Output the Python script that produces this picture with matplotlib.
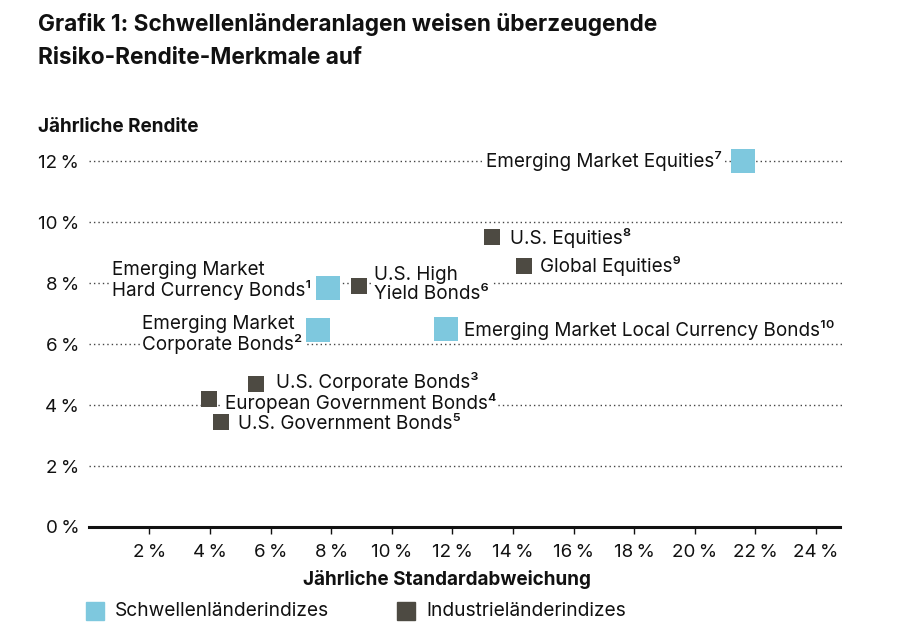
import matplotlib
matplotlib.use('Agg')
import matplotlib.pyplot as plt

plt.rcParams['font.family'] = ['Inter', 'DejaVu Sans']

# risk (x, % std dev) and return (y, %) per index
em_names = ['Emerging Market Equities⁷',
            'Emerging Market\nHard Currency Bonds¹',
            'Emerging Market\nCorporate Bonds²',
            'Emerging Market Local Currency Bonds¹⁰']
em_risk = [21.6, 7.9, 7.55, 11.8]
em_return = [12.0, 7.85, 6.45, 6.5]

dm_names = ['U.S. Equities⁸', 'Global Equities⁹', 'U.S. High\nYield Bonds⁶',
            'U.S. Corporate Bonds³', 'European Government Bonds⁴',
            'U.S. Government Bonds⁵']
dm_risk = [13.3, 14.35, 8.9, 5.5, 3.95, 4.35]
dm_return = [9.5, 8.55, 7.9, 4.7, 4.2, 3.45]

x_ticks = [2, 4, 6, 8, 10, 12, 14, 16, 18, 20, 22, 24]
y_ticks = [0, 2, 4, 6, 8, 10, 12]

em_color = '#7ec8de'
dm_color = '#4d4a42'

# label offsets in pixels from the marker, and alignment
em_offsets = [(-21, 0, 'right'), (-17, 7, 'right'), (-15, -4, 'right'), (18, -1, 'left')]
dm_offsets = [(18, -1, 'left'), (16, 0, 'left'), (15, 2, 'left'),
              (20, 2, 'left'), (16, -4, 'left'), (17, -2, 'left')]

fig = plt.figure(figsize=(8.98, 6.36), dpi=100)
ax = fig.add_axes([0.099, 0.1714, 0.8367, 0.599])

ax.set_xlim(0, 24.8)
ax.set_ylim(0, 12.5)

for y in y_ticks[1:]:
    ax.axhline(y, xmin=0, xmax=1.005, color='#444444', linewidth=1.0,
               linestyle=(0, (1, 2.2)), zorder=1, clip_on=False)

ax.scatter(em_risk, em_return, marker='s', s=280, color=em_color, linewidths=0, zorder=5)
ax.scatter(dm_risk, dm_return, marker='s', s=135, color=dm_color, linewidths=0, zorder=5)

bbox = dict(boxstyle='square,pad=0.12', facecolor='white', edgecolor='none')
for names, xs, ys, offs in [(em_names, em_risk, em_return, em_offsets),
                            (dm_names, dm_risk, dm_return, dm_offsets)]:
    for name, x, y, (dx, dy, ha) in zip(names, xs, ys, offs):
        ax.annotate(name, xy=(x, y), xytext=(dx, dy), textcoords='offset pixels',
                    ha=ha, va='center', multialignment='left', fontsize=13.6,
                    color='#111111', linespacing=1.08, bbox=bbox, zorder=4)

for s in ['top', 'right', 'left']:
    ax.spines[s].set_visible(False)
ax.spines['bottom'].set_linewidth(2.2)
ax.spines['bottom'].set_color('#111111')
ax.spines['bottom'].set_zorder(6)

ax.set_xticks(x_ticks)
ax.set_xticklabels([f'{v}\u2009%' for v in x_ticks])
ax.set_yticks(y_ticks)
ax.set_yticklabels([f'{v}\u2009%' for v in y_ticks])
ax.tick_params(axis='x', direction='out', length=5, width=1, color='#111111',
               labelsize=13.5, pad=7, labelcolor='#111111')
ax.tick_params(axis='y', length=0, labelsize=13.5, pad=7, labelcolor='#111111')

ax.set_xlabel('Jährliche Standardabweichung', fontsize=13.6, fontweight='bold',
              color='#111111')
ax.xaxis.set_label_coords(0.477, -0.113)

fig.text(0.042, 0.8, 'Jährliche Rendite', fontsize=13.6, fontweight='bold',
         color='#111111', va='center')
fig.text(0.042, 1 - 13 / 636, 'Grafik 1: Schwellenländeranlagen weisen überzeugende\nRisiko-Rendite-Merkmale auf',
         fontsize=16.3, fontweight='bold', color='#111111', va='top', linespacing=1.62)

# legend
fig.patches.append(plt.Rectangle((86 / 898, 1 - 620 / 636), 18 / 898, 18 / 636,
                                 transform=fig.transFigure, color=em_color))
fig.text(115 / 898, 1 - 611 / 636, 'Schwellenländerindizes', fontsize=13.8,
         color='#111111', va='center')
fig.patches.append(plt.Rectangle((397 / 898, 1 - 620 / 636), 18 / 898, 18 / 636,
                                 transform=fig.transFigure, color=dm_color))
fig.text(426 / 898, 1 - 611 / 636, 'Industrieländerindizes', fontsize=13.8,
         color='#111111', va='center')

fig.savefig('out.png', dpi=100)
